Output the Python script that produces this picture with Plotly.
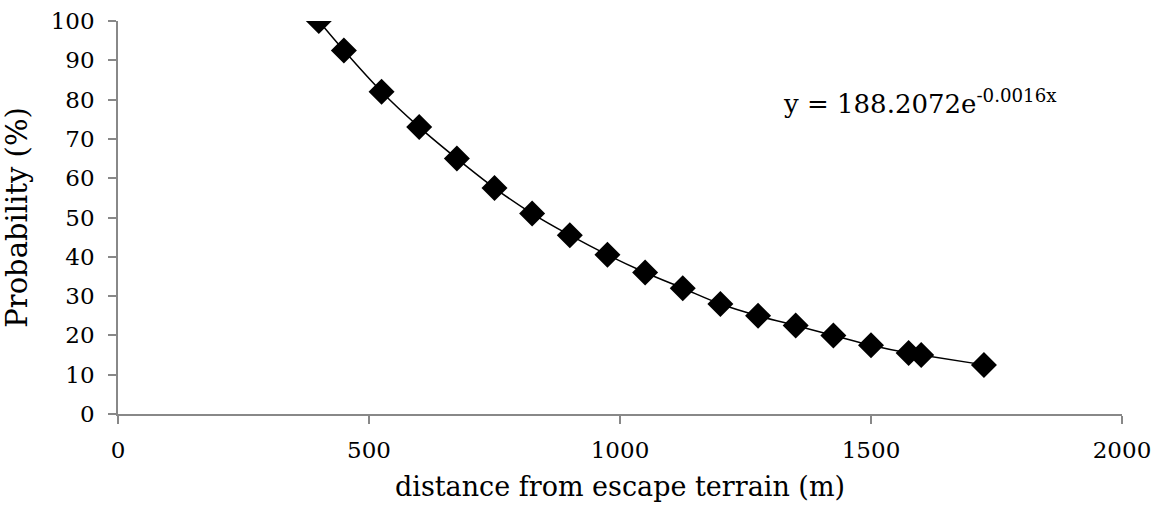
import plotly.graph_objects as go

distance = [400, 450, 525, 600, 675, 750, 825, 900, 975, 1050, 1125, 1200,
            1275, 1350, 1425, 1500, 1575, 1600, 1725]
probability = [100, 92.5, 82, 73, 65, 57.5, 51, 45.5, 40.5, 36, 32, 28,
               25, 22.5, 20, 17.5, 15.5, 15, 12.5]
x_ticks = [0, 500, 1000, 1500, 2000]
y_ticks = [0, 10, 20, 30, 40, 50, 60, 70, 80, 90, 100]

FONT = "DejaVu Serif"

fig = go.Figure()
fig.add_trace(go.Scatter(
    x=distance, y=probability, mode="lines+markers",
    line=dict(color="black", width=1.5, shape="spline"),
    marker=dict(symbol="diamond", size=20, color="black"),
    showlegend=False,
))

fig.add_annotation(
    x=1320, y=79.5, xref="x", yref="y", xanchor="left", yanchor="middle",
    text="y = 188.2072e<sup>-0.0016x</sup>", showarrow=False,
    font=dict(family=FONT, size=26, color="black"),
)

def axis_style(standoff):
    return dict(
        showgrid=False, zeroline=False, showline=True, linecolor="#888888",
        linewidth=1.5, ticks="outside", tickcolor="#888888", ticklen=8,
        tickwidth=1.5, tickfont=dict(family=FONT, size=23, color="black"),
        ticklabelstandoff=standoff, automargin=False,
    )

fig.update_layout(
    width=1158, height=508,
    margin=dict(l=118, r=36, t=21, b=94),
    plot_bgcolor="white", paper_bgcolor="white",
    xaxis=dict(range=[0, 2000], tickvals=x_ticks,
               title=dict(text="distance from escape terrain (m)",
                          font=dict(family=FONT, size=27, color="black")),
               **axis_style(7)),
    yaxis=dict(range=[0, 100], tickvals=y_ticks,
               title=dict(text="Probability (%)",
                          font=dict(family=FONT, size=29, color="black")),
               **axis_style(9)),
)

fig.write_html("out.html")
